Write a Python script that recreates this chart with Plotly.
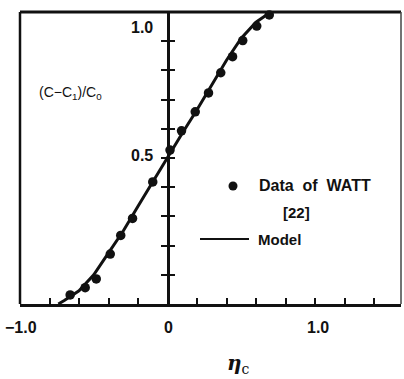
import plotly.graph_objects as go

# Measured concentration profile (Watt [22])
data_eta = [-0.66, -0.558, -0.483, -0.388, -0.317, -0.237, -0.10, 0.017, 0.095,
            0.188, 0.278, 0.361, 0.441, 0.51, 0.605, 0.69]
data_c = [0.031, 0.056, 0.086, 0.171, 0.235, 0.293, 0.418, 0.527, 0.593,
          0.658, 0.723, 0.792, 0.847, 0.902, 0.952, 0.990]

# Model curve
model_eta = [-0.74, -0.7, -0.6, -0.5, -0.4, -0.3, -0.2, -0.1, 0.0, 0.1, 0.2,
             0.3, 0.4, 0.5, 0.6, 0.7]
model_c = [0.0, 0.012, 0.045, 0.10, 0.175, 0.25, 0.335, 0.42, 0.50, 0.585,
           0.665, 0.75, 0.835, 0.91, 0.965, 1.0]

# Axis ticks and labels
x_ticks = [-0.8, -0.6, -0.4, -0.2, 0.2, 0.4, 0.6, 0.8, 1.0, 1.2, 1.4]
x_label_vals = [-1.0, 0.0, 1.0]
x_label_text = ["\u22121.0", "0", "1.0"]
y_ticks = [0.1, 0.2, 0.3, 0.4, 0.5, 0.6, 0.7, 0.8, 0.9]
y_label_vals = [0.5, 1.0]
y_label_text = ["0.5", "1.0"]

X_MIN, X_MAX = -1.0, 1.583
Y_MIN, Y_MAX = 0.0, 1.0
FONT = "Liberation Sans, Arial, sans-serif"
INK = "#111111"

fig = go.Figure()

fig.add_trace(go.Scatter(
    x=model_eta, y=model_c, mode="lines",
    line=dict(color=INK, width=3), showlegend=False, cliponaxis=True))

fig.add_trace(go.Scatter(
    x=data_eta, y=data_c, mode="markers",
    marker=dict(color=INK, size=9.5), showlegend=False, cliponaxis=False))

zero_pos = (0 - X_MIN) / (X_MAX - X_MIN)

fig.update_layout(
    width=404, height=379,
    margin=dict(l=20, r=3, t=12, b=75),
    paper_bgcolor="white", plot_bgcolor="white",
    showlegend=False,
    xaxis=dict(range=[X_MIN, X_MAX], showgrid=False, zeroline=False,
               showline=True, linecolor=INK, linewidth=3,
               tickmode="array", tickvals=x_ticks, ticks="inside",
               ticklen=6, tickwidth=2, tickcolor=INK, showticklabels=False),
    yaxis=dict(range=[Y_MIN, Y_MAX], showgrid=False, zeroline=False,
               anchor="free", position=zero_pos,
               showline=True, linecolor=INK, linewidth=3,
               tickmode="array", tickvals=y_ticks, ticks="outside",
               ticklen=6, tickwidth=2, tickcolor=INK, showticklabels=False),
    yaxis2=dict(range=[Y_MIN, Y_MAX], overlaying="y", side="right",
                anchor="free", position=zero_pos, showgrid=False,
                zeroline=False, showline=False,
                tickmode="array", tickvals=y_ticks, ticks="outside",
                ticklen=6, tickwidth=2, tickcolor=INK, showticklabels=False),
)

# empty trace on the second y axis so its right-hand ticks are drawn
fig.add_trace(go.Scatter(x=[None], y=[None], yaxis="y2", showlegend=False))

# Frame: left, top, right
fig.add_shape(type="line", xref="paper", yref="paper", x0=0, x1=0, y0=0, y1=1,
              line=dict(color=INK, width=2.5))
fig.add_shape(type="line", xref="paper", yref="paper", x0=0, x1=1, y0=1, y1=1,
              line=dict(color=INK, width=3))
fig.add_shape(type="line", xref="paper", yref="paper", x0=1, x1=1, y0=0, y1=1,
              line=dict(color="#444444", width=1.5))

# Tick labels
for v, t in zip(x_label_vals, x_label_text):
    fig.add_annotation(x=v, y=0, xref="x", yref="y", text=f"<b>{t}</b>", showarrow=False,
                       xanchor="center", yanchor="middle", yshift=-23,
                       xshift=(3 if v > 0 else 1),
                       font=dict(family=FONT, size=16, color=INK))
for v, t in zip(y_label_vals, y_label_text):
    fig.add_annotation(x=0, y=v, xref="x", yref="y", text=f"<b>{t}</b>", showarrow=False,
                       xanchor="right", yanchor="middle", xshift=-13,
                       yshift=(-15 if v == 1.0 else 3),
                       font=dict(family=FONT, size=16, color=INK))

lx = lambda px: (px - 20) / 381
ly = lambda py: (304 - py) / 292

# Axis titles
fig.add_annotation(x=lx(70), y=ly(93), xref="paper", yref="paper",
                   xanchor="center", yanchor="middle",
                   text="(C\u2212C<sub>1</sub>)/C<sub>0</sub>", showarrow=False,
                   font=dict(family=FONT, size=14, color=INK))
fig.add_annotation(x=lx(238), y=ly(364), xref="paper", yref="paper",
                   xanchor="center", yanchor="middle",
                   text="<b><i>\u03b7</i></b><sub>c</sub>", showarrow=False,
                   font=dict(family="DejaVu Serif, serif", size=20, color=INK))

# Legend
fig.add_shape(type="circle", xref="paper", yref="paper",
              x0=lx(228.5), x1=lx(237.5), y0=ly(190.5), y1=ly(181.5),
              fillcolor=INK, line=dict(color=INK, width=0))
fig.add_annotation(x=lx(257), y=ly(186), xref="paper", yref="paper",
                   xanchor="left", yanchor="middle",
                   text="<b>Data  of  WATT</b>", showarrow=False,
                   font=dict(family=FONT, size=16, color=INK))
fig.add_annotation(x=lx(296), y=ly(212), xref="paper", yref="paper",
                   xanchor="center", yanchor="middle",
                   text="<b>[22]</b>", showarrow=False,
                   font=dict(family=FONT, size=15, color=INK))
fig.add_shape(type="line", xref="paper", yref="paper",
              x0=lx(200), x1=lx(249), y0=ly(239), y1=ly(239),
              line=dict(color=INK, width=2))
fig.add_annotation(x=lx(256), y=ly(239), xref="paper", yref="paper",
                   xanchor="left", yanchor="middle",
                   text="<b>Model</b>", showarrow=False,
                   font=dict(family=FONT, size=15, color=INK))

fig.write_html("out.html")
